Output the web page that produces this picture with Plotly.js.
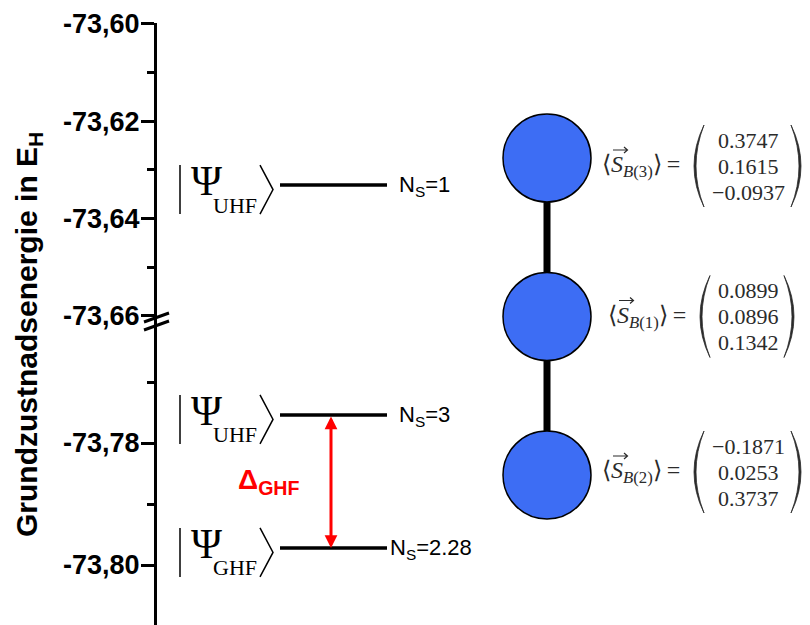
<!DOCTYPE html>
<html><head><meta charset="utf-8">
<script src="https://cdn.plot.ly/plotly-3.0.1.min.js"></script>
<style>html,body{margin:0;padding:0;background:#fff}</style>
</head><body><div id="chart" style="width:810px;height:625px"></div>
<script>
// ---------- data ----------
const levelStates   = ['UHF', 'UHF', 'GHF'];
const levelEnergies = [-73.6331, -73.7754, -73.7972];
const levelNs       = ['1', '3', '2.28'];
const gapUpper = 1, gapLower = 2;              // Δ_GHF between these levels
const upperTickVals  = [-73.60, -73.62, -73.64, -73.66];
const upperMinorVals = [-73.61, -73.63, -73.65];
const lowerTickVals  = [-73.78, -73.80];
const lowerMinorVals = [-73.77, -73.79];
const breakValue = -73.66;
const atoms = ['B(3)', 'B(1)', 'B(2)'];         // top to bottom
const spinX = [0.3747, 0.0899, -0.1871];
const spinY = [0.1615, 0.0896, 0.0253];
const spinZ = [-0.0937, 0.1342, 0.3737];

// ---------- layout helpers ----------
const W = 810, H = 625, L = 157;
const px2paperX = p => (p - L) / (W - L);
const px2paperY = p => 1 - p / H;
const axisFor = e => (e >= breakValue ? 'y' : 'y2');
const fmtTick = v => v.toFixed(2).replace('.', ',');
const fmtNum = v => (v < 0 ? '\u2212' : '') + Math.abs(v).toFixed(4);

const traces = [];
const annotations = [];
const shapes = [];

// energy levels
levelEnergies.forEach((e, i) => {
  const ax = axisFor(e);
  traces.push({type: 'scatter', mode: 'lines', xaxis: 'x', yaxis: ax,
    x: [280, 387], y: [e, e], line: {color: '#000', width: 3.5},
    hoverinfo: 'skip', showlegend: false});
  // ket |Ψ_state>
  shapes.push({type: 'line', xref: 'x', x0: 180, x1: 180, yref: ax,
    ysizemode: 'pixel', yanchor: e, y0: 20, y1: -29,
    line: {color: '#000', width: 1.5}});
  shapes.push({type: 'path', xref: 'x', xsizemode: 'pixel', xanchor: 260,
    yref: ax, ysizemode: 'pixel', yanchor: e,
    path: 'M0,20 L13,-4.5 L0,-29', line: {color: '#000', width: 1.5}});
  annotations.push({xref: 'x', yref: ax, x: 206, y: e, text: '\u03A8',
    showarrow: false, xanchor: 'center', yanchor: 'middle', yshift: 4,
    font: {family: 'Liberation Serif', size: 42, color: '#000'}});
  annotations.push({xref: 'x', yref: ax, x: 211, y: e, text: levelStates[i],
    showarrow: false, xanchor: 'left', yanchor: 'middle', yshift: -20,
    font: {family: 'Liberation Serif', size: 22, color: '#000'}});
  annotations.push({xref: 'x', yref: ax, x: i === 2 ? 388 : 397, y: e,
    text: 'N<sub>S</sub>=' + levelNs[i], showarrow: false,
    xanchor: 'left', yanchor: 'middle', yshift: -1,
    font: {family: 'Liberation Sans', size: 22, color: '#000'}});
});

// Δ_GHF arrow
const eU = levelEnergies[gapUpper], eL = levelEnergies[gapLower];
annotations.push({xref: 'x', yref: axisFor(eL), x: 331, y: eL,
  axref: 'x', ayref: axisFor(eU), ax: 331, ay: eU, text: '',
  showarrow: true, arrowside: 'end+start', arrowhead: 2, startarrowhead: 2,
  arrowsize: 0.85, startarrowsize: 0.85, arrowwidth: 3, arrowcolor: '#ff0000',
  standoff: 0, startstandoff: 0});
annotations.push({xref: 'x', yref: axisFor(eL), x: 236, y: (eU + eL) / 2,
  text: '<b>\u0394<sub>GHF</sub></b>', showarrow: false, xanchor: 'left',
  yanchor: 'middle', font: {family: 'Liberation Sans', size: 28, color: '#ff0000'}});

// molecule (boron chain) with spin expectation values
traces.push({type: 'scatter', mode: 'lines+markers', xaxis: 'x', yaxis: 'y3',
  x: atoms.map(() => 547), y: atoms,
  line: {color: '#000', width: 7},
  marker: {size: 88, color: '#3d6df4', line: {color: '#000', width: 1.5}},
  hoverinfo: 'skip', showlegend: false});

const eqShift = [-8, 0, 3];
const txtCol = '#2b2b2b';
atoms.forEach((a, k) => {
  const idx = 2 - k;   // category index (B(2)=0 bottom)
  const vals = [spinX[k], spinY[k], spinZ[k]];
  const neg = vals.some(v => v < 0);
  const pL = neg ? 693 : 699, pR = neg ? 802 : 795;
  const lx = pL - 93;
  const yc = eqShift[k];
  annotations.push({xref: 'x', yref: 'y3', x: lx, y: idx, yshift: yc,
    text: '\u27E8<i>S</i><sub><i>B</i>' + a.slice(1) + '</sub>\u27E9\u2009=',
    showarrow: false, xanchor: 'left', yanchor: 'middle',
    font: {family: 'Liberation Serif', size: 24, color: txtCol}});
  // vector arrow above S
  shapes.push({type: 'path', xref: 'x', xsizemode: 'pixel', xanchor: lx,
    yref: 'y3', ysizemode: 'pixel', yanchor: idx,
    path: `M13,${yc+16} L27,${yc+16} M24,${yc+19} L27.5,${yc+16} L24,${yc+13}`,
    line: {color: txtCol, width: 1.2}});
  vals.forEach((v, r) => {
    annotations.push({xref: 'x', yref: 'y3', x: (pL + pR) / 2 + 1, y: idx,
      yshift: yc + 26 - 26 * r, text: fmtNum(v), showarrow: false,
      xanchor: 'center', yanchor: 'middle',
      font: {family: 'Liberation Serif', size: 22, color: txtCol}});
  });
  shapes.push({type: 'path', xref: 'x', xsizemode: 'pixel', xanchor: pL,
    yref: 'y3', ysizemode: 'pixel', yanchor: idx,
    path: `M11,${yc+41} Q-9,${yc} 11,${yc-41} Q-5,${yc} 11,${yc+41} Z`,
    fillcolor: txtCol, line: {color: txtCol, width: 0.8}});
  shapes.push({type: 'path', xref: 'x', xsizemode: 'pixel', xanchor: pR,
    yref: 'y3', ysizemode: 'pixel', yanchor: idx,
    path: `M-11,${yc+41} Q9,${yc} -11,${yc-41} Q5,${yc} -11,${yc+41} Z`,
    fillcolor: txtCol, line: {color: txtCol, width: 0.8}});
});

// axis break marks
[[322, 313], [330, 321]].forEach(([ya, yb]) => {
  shapes.push({type: 'line', xref: 'paper', yref: 'paper',
    x0: px2paperX(144), x1: px2paperX(169), y0: px2paperY(ya), y1: px2paperY(yb),
    line: {color: '#000', width: 3}});
});

// y-axis title
annotations.push({xref: 'paper', yref: 'paper', x: px2paperX(28), y: px2paperY(335),
  text: '<b>Grundzustnadsenergie in E<sub>H</sub></b>', textangle: -90,
  showarrow: false, xanchor: 'center', yanchor: 'middle',
  font: {family: 'Liberation Sans', size: 30, color: '#000'}});

const tickFont = {family: 'Liberation Sans', size: 27, color: '#000', weight: 'bold'};
const upperRange = [-73.6602, -73.5998];
const pxTop = 24 - 0.0002 / 0.06 * 292, pxMid = 316 + 0.0002 / 0.06 * 292;
const lowerTop = -73.78 + (443 - pxMid) / 6100;
const lowerBot = -73.80 - (H - 565) / 6100;

const axisCommon = {anchor: 'x', showline: true, linewidth: 3, linecolor: '#000',
  showgrid: false, zeroline: false, ticks: 'outside', ticklen: 13, tickwidth: 3,
  tickcolor: '#000', tickmode: 'array', tickfont: tickFont, ticklabelstandoff: -4,
  fixedrange: true};

const layout = {
  width: W, height: H, margin: {l: L, r: 0, t: 0, b: 0},
  paper_bgcolor: '#fff', plot_bgcolor: 'rgba(0,0,0,0)',
  separators: ',.', showlegend: false,
  xaxis: {range: [L, W], visible: false, fixedrange: true},
  yaxis: Object.assign({}, axisCommon, {
    domain: [px2paperY(pxMid), px2paperY(pxTop)], range: upperRange,
    tickvals: upperTickVals, ticktext: upperTickVals.map(fmtTick),
    minor: {tickmode: 'array', tickvals: upperMinorVals, ticks: 'outside',
      ticklen: 7, tickwidth: 3, tickcolor: '#000', showgrid: false}}),
  yaxis2: Object.assign({}, axisCommon, {
    domain: [0, px2paperY(pxMid)], range: [lowerBot, lowerTop],
    tickvals: lowerTickVals, ticktext: lowerTickVals.map(fmtTick),
    minor: {tickmode: 'array', tickvals: lowerMinorVals, ticks: 'outside',
      ticklen: 7, tickwidth: 3, tickcolor: '#000', showgrid: false}}),
  yaxis3: {domain: [0, 1], anchor: 'x', visible: false, type: 'category',
    categoryorder: 'array', categoryarray: ['B(2)', 'B(1)', 'B(3)'],
    range: [(475 - H) / 158.5, 475 / 158.5], fixedrange: true},
  annotations: annotations,
  shapes: shapes
};

Plotly.newPlot('chart', traces, layout, {displayModeBar: false, staticPlot: true});
</script></body></html>
